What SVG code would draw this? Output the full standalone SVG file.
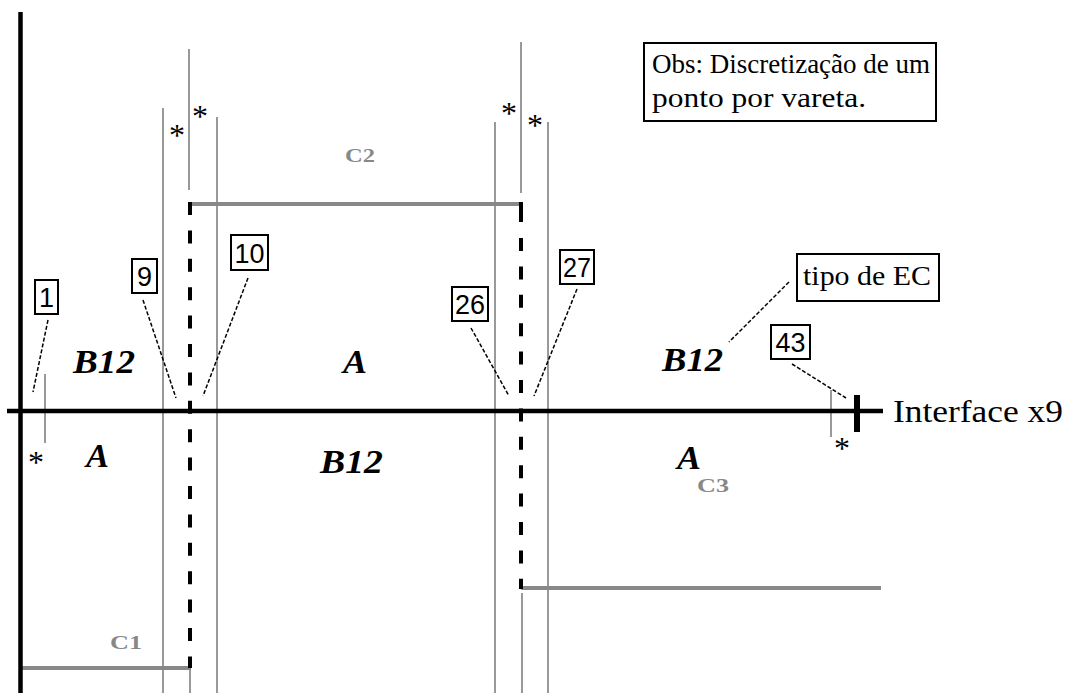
<svg xmlns="http://www.w3.org/2000/svg" width="1067" height="693" viewBox="0 0 1067 693">
<style>
.axis{stroke:#000;stroke-width:4.5;fill:none}
.rod{stroke:#999;stroke-width:2;fill:none}
.cl{stroke:#888;stroke-width:4;fill:none}
.dash{stroke:#000;stroke-width:4;fill:none;stroke-dasharray:13 15.4}
.lead{stroke:#000;stroke-width:1.5;fill:none;stroke-dasharray:4 2}
.box{fill:#fff;stroke:#000;stroke-width:2}
.num{font-family:"Liberation Sans",Arial,sans-serif;font-size:27px;text-anchor:middle;fill:#000}
.ser{font-family:"Liberation Serif","Times New Roman",serif;fill:#000}
.reg{font-family:"Liberation Serif","Times New Roman",serif;font-weight:bold;font-style:italic;font-size:34px;fill:#000}
.cap{font-family:"Liberation Serif","Times New Roman",serif;font-weight:bold;font-size:19px;fill:#888}
.star{font-family:"Liberation Serif","Times New Roman",serif;font-size:32px;text-anchor:middle;fill:#000}
</style>
<rect width="1067" height="693" fill="#fff"/>
<g id="rods">
<line class="rod" x1="45" y1="374" x2="45" y2="443"/>
<line class="rod" x1="163" y1="108" x2="163" y2="693"/>
<line class="rod" x1="189" y1="49" x2="189" y2="190"/>
<line class="rod" x1="217" y1="117" x2="217" y2="693"/>
<line class="rod" x1="190" y1="668" x2="190" y2="693"/>
<line class="rod" x1="495" y1="122" x2="495" y2="693"/>
<line class="rod" x1="521" y1="42" x2="521" y2="193"/>
<line class="rod" x1="548" y1="122" x2="548" y2="693"/>
<line class="rod" x1="522" y1="593" x2="522" y2="693"/>
<line class="rod" x1="831" y1="390" x2="831" y2="437"/>
</g>
<g id="C-lines">
<polyline class="cl" points="189,204 522,204"/>
<polyline class="cl" points="521,588 881,588"/>
<polyline class="cl" points="21,668 191,668"/>
</g>
<g id="interfaces">
<line class="dash" x1="190" y1="202" x2="190" y2="668"/>
<line x1="521" y1="202" x2="521" y2="222" stroke="#000" stroke-width="4"/>
<line class="dash" x1="521" y1="238" x2="521" y2="589"/>
</g>
<g id="axes">
<line class="axis" x1="20.5" y1="12" x2="20.5" y2="693"/>
<line class="axis" x1="7" y1="411" x2="883" y2="411"/>
<line x1="857" y1="395" x2="857" y2="432" stroke="#000" stroke-width="6"/>
<text class="ser" x="893" y="422" font-size="32" textLength="170" lengthAdjust="spacingAndGlyphs">Interface x9</text>
</g>
<g id="stars">
<text class="star" x="177" y="146">*</text>
<text class="star" x="200" y="127">*</text>
<text class="star" x="509" y="124">*</text>
<text class="star" x="535" y="136">*</text>
<text class="star" x="36" y="473">*</text>
<text class="star" x="842" y="459">*</text>
</g>
<g id="regions">
<text class="reg" x="73" y="373" textLength="62" lengthAdjust="spacingAndGlyphs">B12</text>
<text class="reg" x="343" y="373" textLength="24" lengthAdjust="spacingAndGlyphs">A</text>
<text class="reg" x="662" y="371" textLength="61" lengthAdjust="spacingAndGlyphs">B12</text>
<text class="reg" x="86" y="467" textLength="23" lengthAdjust="spacingAndGlyphs">A</text>
<text class="reg" x="320" y="473" textLength="63" lengthAdjust="spacingAndGlyphs">B12</text>
<text class="reg" x="677" y="469" textLength="24" lengthAdjust="spacingAndGlyphs">A</text>
</g>
<g id="C-labels">
<text class="cap" x="345" y="162" textLength="30" lengthAdjust="spacingAndGlyphs">C2</text>
<text class="cap" x="697" y="492" textLength="32" lengthAdjust="spacingAndGlyphs">C3</text>
<text class="cap" x="110" y="649" textLength="32" lengthAdjust="spacingAndGlyphs">C1</text>
</g>
<g id="connectors">
<line class="lead" x1="48" y1="320" x2="33" y2="392"/>
<line class="lead" x1="143" y1="300" x2="176" y2="398"/>
<line class="lead" x1="248" y1="278" x2="203" y2="396"/>
<line class="lead" x1="471" y1="328" x2="509" y2="396"/>
<line class="lead" x1="577" y1="289" x2="534" y2="396"/>
<line class="lead" x1="789" y1="282" x2="729" y2="342"/>
<line class="lead" x1="792" y1="364" x2="846" y2="398"/>
</g>
<g id="n1"><rect class="box" x="35" y="280" width="23" height="34"/><text class="num" x="46.5" y="307">1</text></g>
<g id="n9"><rect class="box" x="132" y="259" width="25" height="34"/><text class="num" x="144.5" y="286">9</text></g>
<g id="n10"><rect class="box" x="231" y="235" width="37" height="35"/><text class="num" x="249.5" y="263" textLength="30" lengthAdjust="spacingAndGlyphs">10</text></g>
<g id="n26"><rect class="box" x="452" y="287" width="36" height="34"/><text class="num" x="470" y="314" textLength="30" lengthAdjust="spacingAndGlyphs">26</text></g>
<g id="n27"><rect class="box" x="560" y="250" width="34" height="34"/><text class="num" x="577" y="277" textLength="28" lengthAdjust="spacingAndGlyphs">27</text></g>
<g id="n43"><rect class="box" x="771" y="325" width="39" height="34"/><text class="num" x="790.5" y="352" textLength="30" lengthAdjust="spacingAndGlyphs">43</text></g>
<g id="tipo"><rect class="box" x="797" y="254" width="142" height="47"/><text class="ser" x="803" y="285" font-size="27" textLength="128" lengthAdjust="spacingAndGlyphs">tipo de EC</text></g>
<g id="obs"><rect class="box" x="644" y="43" width="292" height="78"/>
<text class="ser" x="652" y="73" font-size="28" textLength="278" lengthAdjust="spacingAndGlyphs">Obs: Discretização de um</text>
<text class="ser" x="652" y="107" font-size="28" textLength="214" lengthAdjust="spacingAndGlyphs">ponto por vareta.</text></g>
</svg>
